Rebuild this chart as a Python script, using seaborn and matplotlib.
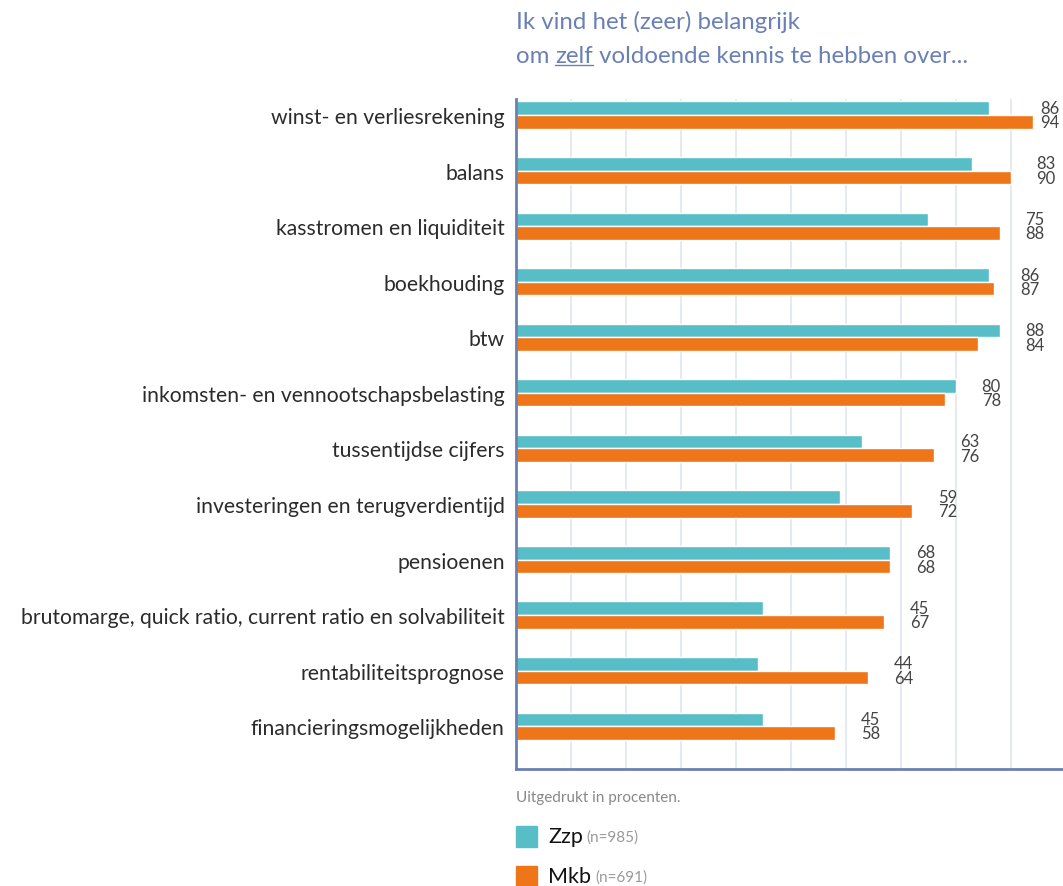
import pandas as pd
import numpy as np
import seaborn as sns
import matplotlib.pyplot as plt
from matplotlib.patches import Rectangle
from matplotlib.lines import Line2D

categories = ['winst- en verliesrekening', 'balans', 'kasstromen en liquiditeit',
              'boekhouding', 'btw', 'inkomsten- en vennootschapsbelasting',
              'tussentijdse cijfers', 'investeringen en terugverdientijd',
              'pensioenen', 'brutomarge, quick ratio, current ratio en solvabiliteit',
              'rentabiliteitsprognose', 'financieringsmogelijkheden']
zzp = [86, 83, 75, 86, 88, 80, 63, 59, 68, 45, 44, 45]
mkb = [94, 90, 88, 87, 84, 78, 76, 72, 68, 67, 64, 58]
groups = ['Zzp', 'Mkb']
group_n = ['(n=985)', '(n=691)']

teal = '#57bec8'
orange = '#ee7518'
blue = '#6a80b4'

df = pd.DataFrame({
    'cat': categories * 2,
    'val': zzp + mkb,
    'group': ['Zzp'] * len(zzp) + ['Mkb'] * len(mkb),
})

sns.set_style('white')
plt.rcParams['font.family'] = ['Lato', 'DejaVu Sans']

fig = plt.figure(figsize=(10.63, 8.87), dpi=100)
ax = fig.add_axes([0.4854, 0.1319, 0.5146, 0.7554])

sns.barplot(data=df, y='cat', x='val', hue='group', order=categories,
            hue_order=groups, palette=[teal, orange], width=0.49,
            saturation=1, orient='h', legend=False, ax=ax)

ax.set_xlim(0, 99.5)
ax.set_ylim(len(categories) - 0.23, -0.29)
ax.set_xticks(range(0, 100, 10))
ax.set_xticklabels([])
ax.xaxis.grid(True, color='#e3e8f1', linewidth=1.3)
ax.set_axisbelow(True)
ax.set_xlabel('')
ax.set_ylabel('')
ax.tick_params(axis='both', length=0)
ax.tick_params(axis='y', pad=8, labelsize=15.2, labelcolor='#2b2b2b')
for side in ['top', 'right']:
    ax.spines[side].set_visible(False)
for side in ['left', 'bottom']:
    ax.spines[side].set_color(blue)
    ax.spines[side].set_linewidth(2)

# value labels, two lines per category
for i, (a, b) in enumerate(zip(zzp, mkb)):
    x = min(max(a, b) + 4.7, 95.4)
    ax.text(x, i - 0.13, str(a), ha='left', va='center', fontsize=12, color='#444444')
    ax.text(x, i + 0.13, str(b), ha='left', va='center', fontsize=12, color='#444444')

# title
fs_title = 17.3
fig.text(0.4854, 0.975, 'Ik vind het (zeer) belangrijk', ha='left', va='center',
         fontsize=fs_title, color=blue)
t1 = fig.text(0.4854, 0.936, 'om ', ha='left', va='center', fontsize=fs_title, color=blue)
fig.canvas.draw()
r = fig.canvas.get_renderer()
bb = t1.get_window_extent(r)
t2 = fig.text(bb.x1 / fig.bbox.width, 0.936, 'zelf', ha='left', va='center',
              fontsize=fs_title, color=blue)
bb2 = t2.get_window_extent(r)
fig.text(bb2.x1 / fig.bbox.width, 0.936, ' voldoende kennis te hebben over...',
         ha='left', va='center', fontsize=fs_title, color=blue)
fig.add_artist(Line2D([bb2.x0 / fig.bbox.width, bb2.x1 / fig.bbox.width],
                      [(bb2.y0 + 1) / fig.bbox.height] * 2, color=blue, linewidth=1))

# note and legend
fig.text(0.4854, 0.100, 'Uitgedrukt in procenten.', ha='left', va='center',
         fontsize=11, color='#888888')
for k, (g, n, c) in enumerate(zip(groups, group_n, [teal, orange])):
    yc = 0.056 - k * 0.045
    fig.add_artist(Rectangle((0.4854, yc - 0.0115), 0.0197, 0.023,
                             transform=fig.transFigure, color=c))
    tg = fig.text(0.5155, yc, g, ha='left', va='center', fontsize=15.5, color='#111111')
    fig.canvas.draw()
    bg = tg.get_window_extent(r)
    fig.text((bg.x1 + 4) / fig.bbox.width, yc, n, ha='left', va='center',
             fontsize=11, color='#999999')

fig.savefig('out.png', dpi=100)
